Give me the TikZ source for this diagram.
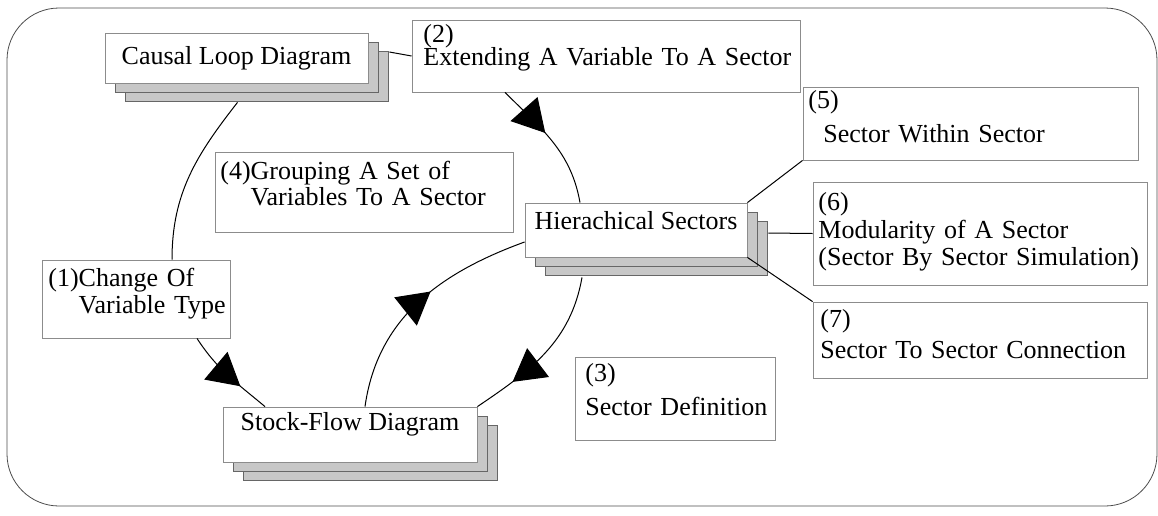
\documentclass[tikz,border=0pt]{standalone}
\usepackage{fontspec}
\setmainfont{Liberation Serif}
\usetikzlibrary{calc}
\usetikzlibrary{fit}
\usetikzlibrary{shadows}
\usetikzlibrary{arrows.meta}
\usetikzlibrary{decorations.markings}

\tikzset{flow/.style={postaction={decorate},
  decoration={markings,mark=at position #1 with {\arrow{Triangle[length=16pt,width=18pt]}}}}}

\begin{document}
\begin{tikzpicture}[x=0.5pt,y=0.5pt,font=\fontsize{13pt}{13.5pt}\selectfont]
	 \tikzstyle{stage}=[draw=black!45,fill=white,inner sep=0pt,line width=0.4pt,
	   double copy shadow={shadow xshift=5pt,shadow yshift=-4.7pt,fill=black!22,draw=black!60}]
	 \tikzstyle{note}=[draw=black!45,inner sep=0pt,line width=0.4pt]
	 \tikzstyle{txt}=[anchor=base west,align=left,inner sep=0pt,text width=200pt]
	 \tikzstyle{edge}=[draw,black,line width=0.5pt]
	 \useasboundingbox (0,0) rectangle (1158,-515);
	 \draw[black!70,line width=0.4pt,rounded corners=26pt] (7,-8) rectangle (1157,-506);
	 % the three kinds of diagram
	 \node[stage,minimum width=131.5pt,minimum height=25pt] (cld) at (236.5,-58) {Causal Loop Diagram};
	 \node[stage,minimum width=111pt,minimum height=27pt,text depth=9.9pt] (hier) at (636,-230) {Hierachical Sectors};
	 \node[stage,minimum width=127pt,minimum height=27.5pt,text depth=12.9pt] (sfd) at (350,-434.5) {Stock-Flow Diagram};
	 % numbered steps
	 \node[note,fit={(412,-20) (800,-92)}] (ext) {};
	 \node[txt] at (423,-42) {(2)\\[-2pt]Extending A Variable To A Sector};
	 \node[note,fit={(215,-152) (513,-232)}] (grp) {};
	 \node[txt] at (220,-179) {(4)Grouping A Set of\\[-0.5pt]\hphantom{(4)}Variables To A Sector};
	 \node[note,fit={(42,-260) (230,-338)}] (chg) {};
	 \node[txt] at (48,-286) {(1)Change Of\\\hphantom{(1)}Variable Type};
	 \node[note,fit={(575,-357) (775,-440)}] (def) {};
	 \node[txt] at (585,-381) {(3)\\[3.5pt]Sector Definition};
	 \node[note,fit={(803,-87) (1138,-160)}] (sec5) {};
	 \node[txt] at (808,-108) {(5)\\[3.5pt]\hspace*{7.5pt}Sector Within Sector};
	 \node[note,fit={(813,-182) (1147,-285)}] (sec6) {};
	 \node[txt] at (818,-210) {(6)\\[0.5pt]Modularity of A Sector\\(Sector By Sector Simulation)};
	 \node[note,fit={(813,-302) (1147,-378)}] (sec7) {};
	 \node[txt] at (820,-327) {(7)\\[2pt]Sector To Sector Connection};
	 % the loop
	 \draw[edge] ($(cld.south)+(1,-19)$) to[out=232,in=90] ($(chg.north)+(36,0)$);
	 \draw[edge,flow=0.67] ($(chg.south)+(61,0)$) to[out=-57,in=140] ($(sfd.north)+(-85,0)$);
	 \draw[edge] ($(cld.east)+(21,6)$) -- (ext.west);
	 \draw[edge,flow=0.42] ($(ext.south)+(-101,0)$) to[out=-45,in=100] ($(hier.north)+(-56,0)$);
	 \draw[edge,flow=0.56] ($(sfd.north)+(15,0)$) to[out=82,in=200] ($(hier.west)+(0,-12)$);
	 \draw[edge,flow=0.75] ($(hier.south)+(-54,-20)$) to[out=260,in=34] (sfd.north east);
	 % sector sub-topics
	 \draw[edge] (hier.north east) -- (sec5.south west);
	 \draw[edge] ($(hier.east)+(21,-3)$) -- (sec6.west);
	 \draw[edge] (hier.south east) -- (sec7.north west);
\end{tikzpicture}
\end{document}
